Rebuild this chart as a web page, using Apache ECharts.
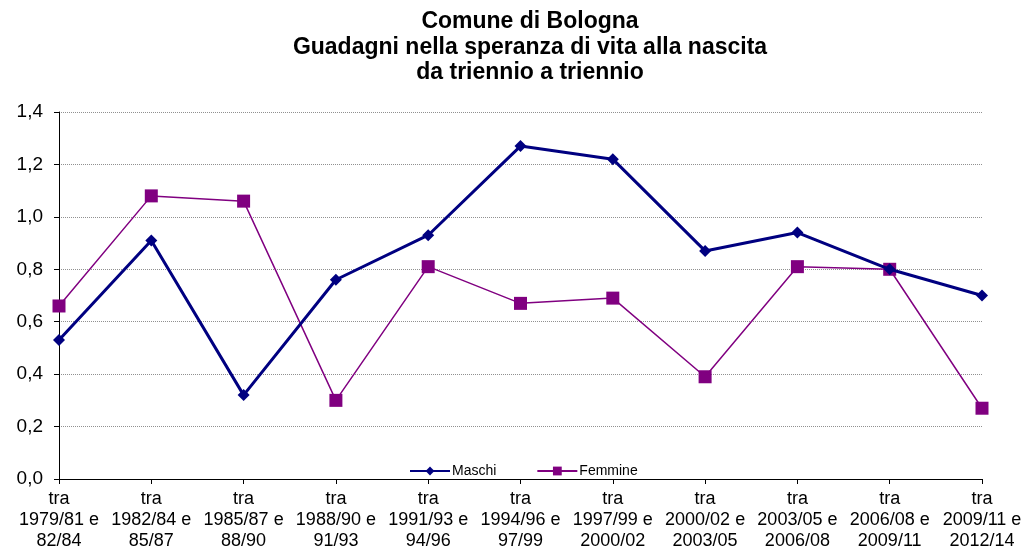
<!DOCTYPE html>
<html>
<head>
<meta charset="utf-8">
<script src="https://cdn.jsdelivr.net/npm/echarts@6/dist/echarts.min.js"></script>
<style>
  html, body { margin: 0; padding: 0; background: #fff; }
  #chart { width: 1026px; height: 552px; }
</style>
</head>
<body>
<div id="chart"></div>
<script>
// periodi di confronto
const categories = [
  'tra\n1979/81 e\n82/84',
  'tra\n1982/84 e\n85/87',
  'tra\n1985/87 e\n88/90',
  'tra\n1988/90 e\n91/93',
  'tra\n1991/93 e\n94/96',
  'tra\n1994/96 e\n97/99',
  'tra\n1997/99 e\n2000/02',
  'tra\n2000/02 e\n2003/05',
  'tra\n2003/05 e\n2006/08',
  'tra\n2006/08 e\n2009/11',
  'tra\n2009/11 e\n2012/14'
];
const maschi = [0.53, 0.91, 0.32, 0.76, 0.93, 1.27, 1.22, 0.87, 0.94, 0.80, 0.70];
const femmine = [0.66, 1.08, 1.06, 0.30, 0.81, 0.67, 0.69, 0.39, 0.81, 0.80, 0.27];

const font = 'Liberation Sans, Arial, sans-serif';
const chart = echarts.init(document.getElementById('chart'));

chart.setOption({
  backgroundColor: '#fff',
  animation: false,
  title: {
    text: 'Comune di Bologna\nGuadagni nella speranza di vita alla nascita\nda triennio a triennio',
    left: 525,
    top: 4,
    textAlign: 'center',
    textStyle: { fontFamily: font, fontSize: 23, fontWeight: 'bold', color: '#000', lineHeight: 25.5 }
  },
  legend: {
    top: 459,
    left: 404,
    itemGap: 40,
    itemWidth: 40,
    itemHeight: 11,
    textStyle: { fontFamily: font, fontSize: 14, color: '#000', padding: [0, 0, 0, -3] },
    data: ['Maschi', 'Femmine']
  },
  grid: { left: 59, right: 44, top: 112, bottom: 73 },
  xAxis: {
    type: 'category',
    data: categories,
    boundaryGap: false,
    axisLine: { lineStyle: { color: '#000', width: 1 } },
    axisTick: { show: true, length: 5, lineStyle: { color: '#000' }, alignWithLabel: true },
    axisLabel: {
      interval: 0,
      fontFamily: font,
      fontSize: 18,
      color: '#000',
      lineHeight: 21,
      margin: 10
    },
    splitLine: { show: false }
  },
  yAxis: {
    type: 'value',
    min: 0,
    max: 1.4,
    interval: 0.2,
    axisLine: { show: true, lineStyle: { color: '#000', width: 1 } },
    axisTick: { show: true, length: 5, lineStyle: { color: '#000' } },
    axisLabel: {
      fontFamily: font,
      fontSize: 19,
      color: '#000',
      margin: 16,
      formatter: v => v.toFixed(1).replace('.', ',')
    },
    splitLine: { show: true, lineStyle: { color: '#909090', type: 'dotted', width: 1 } }
  },
  series: [
    {
      name: 'Maschi',
      type: 'line',
      data: maschi,
      color: '#000080',
      lineStyle: { width: 3, color: '#000080' },
      symbol: 'diamond',
      symbolSize: 12,
      itemStyle: { color: '#000080' },
      z: 3
    },
    {
      name: 'Femmine',
      type: 'line',
      data: femmine,
      color: '#800080',
      lineStyle: { width: 1.5, color: '#800080' },
      symbol: 'rect',
      symbolSize: 13,
      itemStyle: { color: '#800080' },
      z: 2
    }
  ]
});
</script>
</body>
</html>
